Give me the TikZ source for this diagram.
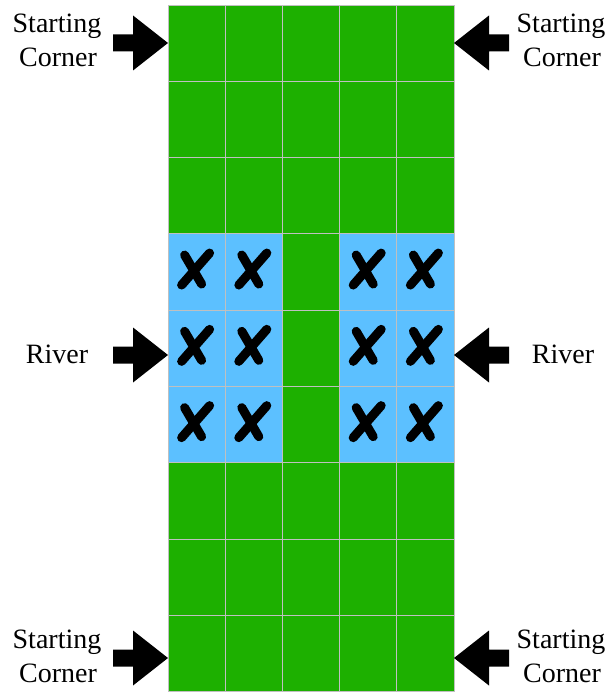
\documentclass[tikz,border=0pt]{standalone}
\usepackage{fontspec}
\setmainfont{Liberation Serif}
\newfontfamily\timesfont{Liberation Serif}
\definecolor{grass}{HTML}{1DB000}
\definecolor{water}{HTML}{5CC0FF}
\definecolor{gridgray}{HTML}{C0C0C0}
\begin{document}
\begin{tikzpicture}[x=1pt,y=-1pt,
  cellbox/.style={draw=gridgray,line width=0.9pt},
  lbl/.style={anchor=base,inner sep=0pt,font=\timesfont\fontsize{28}{32}\selectfont},
  blockarrow/.style={fill=black,draw=none},
  xmark/.style={line width=9pt,line cap=round,black}]
\useasboundingbox (0,0) rectangle (610,692);
\def\cw{57.2}
\def\rh{76.3}
% grid cells
\foreach \r in {0,...,8}{
  \foreach \c in {0,...,4}{
    \pgfmathsetmacro{\xa}{168+\cw*\c}
    \pgfmathsetmacro{\ya}{5+\rh*\r}
    \pgfmathsetmacro{\isriver}{(\r>=3 && \r<=5 && \c!=2) ? 1 : 0}
    \ifdim\isriver pt>0.5pt
      \fill[water] (\xa,\ya) rectangle ++(\cw,\rh);
    \else
      \fill[grass] (\xa,\ya) rectangle ++(\cw,\rh);
    \fi
  }
}
\foreach \r in {0,...,8}{
  \foreach \c in {0,...,4}{
    \draw[cellbox] (168+\cw*\c,5+\rh*\r) rectangle ++(\cw,\rh);
  }
}
% X marks
\foreach \r in {3,4,5}{
  \foreach \c in {0,1,3,4}{
    \pgfmathsetmacro{\xc}{168+\cw*(\c+0.5)}
    \pgfmathsetmacro{\yc}{5+\rh*(\r+0.5)}
    \begin{scope}[shift={(\xc,\yc)}]
      \draw[xmark] (-15,13) -- (13,-19);
      \draw[xmark] (-12,-17) -- (5,12);
    \end{scope}
  }
}
% arrows pointing right (left side)
\foreach \yc in {43,355,658}{
  \fill[blockarrow] (113,\yc-8.5) -- (133,\yc-8.5) -- (133,\yc-27.5) -- (168,\yc)
    -- (133,\yc+27.5) -- (133,\yc+8.5) -- (113,\yc+8.5) -- cycle;
}
% arrows pointing left (right side)
\foreach \yc in {43,355,658}{
  \fill[blockarrow] (509,\yc-8.5) -- (489,\yc-8.5) -- (489,\yc-27.5) -- (454,\yc)
    -- (489,\yc+27.5) -- (489,\yc+8.5) -- (509,\yc+8.5) -- cycle;
}
% labels
\node[lbl] (tl1) at (57,33) {Starting};
\node[lbl] (tl2) at (58,67) {Corner};
\node[lbl] (tr1) at (561,33) {Starting};
\node[lbl] (tr2) at (562,67) {Corner};
\node[lbl] (ml) at (57,363) {River};
\node[lbl] (mr) at (563,363) {River};
\node[lbl] (bl1) at (57,648) {Starting};
\node[lbl] (bl2) at (58,682) {Corner};
\node[lbl] (br1) at (561,648) {Starting};
\node[lbl] (br2) at (562,682) {Corner};
\end{tikzpicture}
\end{document}
